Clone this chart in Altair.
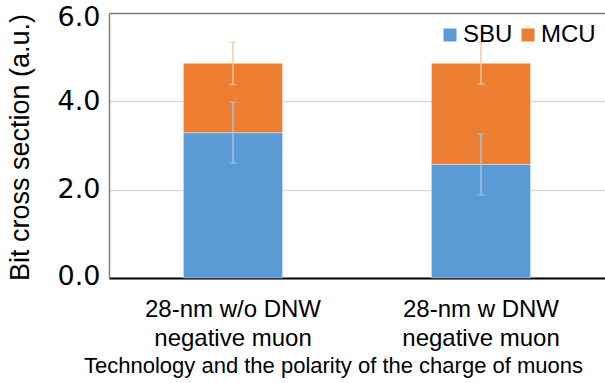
import altair as alt
import pandas as pd

categories = ["28-nm w/o DNW|negative muon", "28-nm w DNW|negative muon"]
series = ["SBU", "MCU"]
sbu = [3.29, 2.57]
mcu = [1.57, 2.29]
sbu_err = [0.69, 0.69]
mcu_err = [0.48, 0.47]

bar_colors = ["#5b9bd5", "#ed7d31"]
err_colors = ["#9fc3e7", "#f8c6a4"]

rows = []
for i, c in enumerate(categories):
    rows.append({"cat": c, "series": "SBU", "value": sbu[i], "ord": 0})
    rows.append({"cat": c, "series": "MCU", "value": mcu[i], "ord": 1})
df = pd.DataFrame(rows)

erows = []
for i, c in enumerate(categories):
    top_s = sbu[i]
    top_m = sbu[i] + mcu[i]
    erows.append({"cat": c, "lo": top_s - sbu_err[i], "hi": top_s + sbu_err[i], "ecolor": err_colors[0]})
    erows.append({"cat": c, "lo": top_m - mcu_err[i], "hi": top_m + mcu_err[i], "ecolor": err_colors[1]})
edf = pd.DataFrame(erows)

xscale = alt.Scale(paddingInner=0.6, paddingOuter=0.3)
yscale = alt.Scale(domain=[0, 6], nice=False)

xaxis = alt.Axis(
    title="Technology and the polarity of the charge of muons",
    labelExpr="split(datum.label, '|')",
    labelFont="Liberation Sans", labelFontSize=24, labelLineHeight=29,
    labelPadding=19, labelColor="black", labelAngle=0, ticks=False,
    domainColor="black", domainWidth=2,
    titleFont="Liberation Sans", titleFontSize=22, titleFontWeight="normal",
    titleColor="black", titleX=224, titleY=94, titleBaseline="alphabetic",
    titleAlign="center")
yaxis = alt.Axis(
    values=[0, 2, 4, 6], format=".1f", title="Bit cross section (a.u.)",
    labelFont="DejaVu Sans", labelFontSize=27, labelPadding=9,
    labelColor="black", ticks=False,
    labelOffset={"condition": [{"test": "datum.value == 6", "value": 4},
                               {"test": "datum.value == 0", "value": -2}],
                 "value": 0},
    domainColor="#7f7f7f", domainWidth=1.5,
    grid=True,
    gridColor=alt.condition("datum.value == 6", alt.value("#808080"), alt.value("#d9d9d9")),
    gridWidth=1.5,
    titleFont="Liberation Sans", titleFontSize=27, titleFontWeight="normal",
    titleColor="black", titleX=-81, titleY=134, titleBaseline="alphabetic",
    titleAlign="center")

bars = alt.Chart(df).mark_bar(stroke="white", strokeWidth=0.8, strokeOpacity=0.5).encode(
    x=alt.X("cat:N", sort=categories, scale=xscale, axis=xaxis),
    y=alt.Y("value:Q", stack="zero", scale=yscale, axis=yaxis),
    color=alt.Color("series:N", scale=alt.Scale(domain=series, range=bar_colors),
                    legend=alt.Legend(title=None, orient="none", legendX=329, legendY=10,
                                      direction="horizontal", symbolType="square",
                                      symbolSize=169, symbolStrokeWidth=0,
                                      labelFont="Liberation Sans", labelFontSize=24,
                                      labelColor="black", labelOffset=1,
                                      columnPadding=3, padding=0)),
    order=alt.Order("ord:Q"),
)

rules = alt.Chart(edf).mark_rule(strokeWidth=1.5).encode(
    x=alt.X("cat:N", sort=categories, scale=xscale, axis=xaxis),
    y=alt.Y("lo:Q", scale=yscale, axis=yaxis),
    y2="hi:Q",
    color=alt.Color("ecolor:N", scale=None),
)
cap_lo = alt.Chart(edf).mark_tick(size=7, thickness=1.5).encode(
    x=alt.X("cat:N", sort=categories, scale=xscale, axis=xaxis),
    y=alt.Y("lo:Q", scale=yscale, axis=yaxis),
    color=alt.Color("ecolor:N", scale=None),
)
cap_hi = alt.Chart(edf).mark_tick(size=7, thickness=1.5).encode(
    x=alt.X("cat:N", sort=categories, scale=xscale, axis=xaxis),
    y=alt.Y("hi:Q", scale=yscale, axis=yaxis),
    color=alt.Color("ecolor:N", scale=None),
)

chart = alt.layer(bars, rules, cap_lo, cap_hi).properties(
    width=496, height=265,
    padding={"left": 109, "top": 13, "right": 0, "bottom": 105},
    autosize="none",
    background="white",
).configure_view(stroke=None)

chart.save("out.html", embed_options={"renderer": "svg", "actions": False})
